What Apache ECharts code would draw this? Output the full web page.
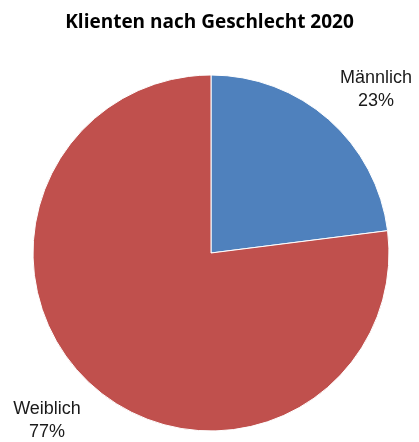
<!DOCTYPE html>
<html>
<head>
<meta charset="utf-8">
<script src="https://cdn.jsdelivr.net/npm/echarts@6/dist/echarts.min.js"></script>
<style>
  html, body { margin: 0; padding: 0; background: #fff; }
  #chart { width: 419px; height: 442px; }
</style>
</head>
<body>
<div id="chart"></div>
<script>
// Client gender breakdown, 2020 (percent)
const categories = ['Männlich', 'Weiblich'];
const shares = [23, 77];
const sliceColors = ['#4F81BD', '#C0504D'];
// label anchor points (px) for each slice label
const labelSpots = [[376, 90], [47, 421]];

const chart = echarts.init(document.getElementById('chart'), null, { renderer: 'canvas' });

chart.setOption({
  animation: false,
  backgroundColor: '#ffffff',
  title: {
    text: 'Klienten nach Geschlecht 2020',
    left: 'center',
    top: 8,
    textStyle: {
      fontFamily: 'Open Sans',
      fontWeight: 'bold',
      fontSize: 19,
      color: '#000000'
    }
  },
  series: [{
    type: 'pie',
    center: [211, 253],
    radius: [0, 178],
    startAngle: 90,
    clockwise: true,
    data: categories.map((name, i) => ({
      name: name,
      value: shares[i],
      itemStyle: { color: sliceColors[i] }
    })),
    itemStyle: { borderColor: '#ffffff', borderWidth: 1 },
    label: {
      show: true,
      position: 'outside',
      alignTo: 'none',
      overflow: 'none',
      edgeDistance: 0,
      formatter: p => p.name + '\n' + p.value + '%',
      fontFamily: 'Liberation Sans',
      fontSize: 18,
      lineHeight: 23,
      color: '#1a1a1a',
      align: 'center'
    },
    labelLine: { show: false },
    labelLayout: function (params) {
      const spot = labelSpots[params.dataIndex];
      return { x: spot[0], y: spot[1], align: 'center', verticalAlign: 'middle' };
    },
    emphasis: { disabled: true }
  }]
});
</script>
</body>
</html>
